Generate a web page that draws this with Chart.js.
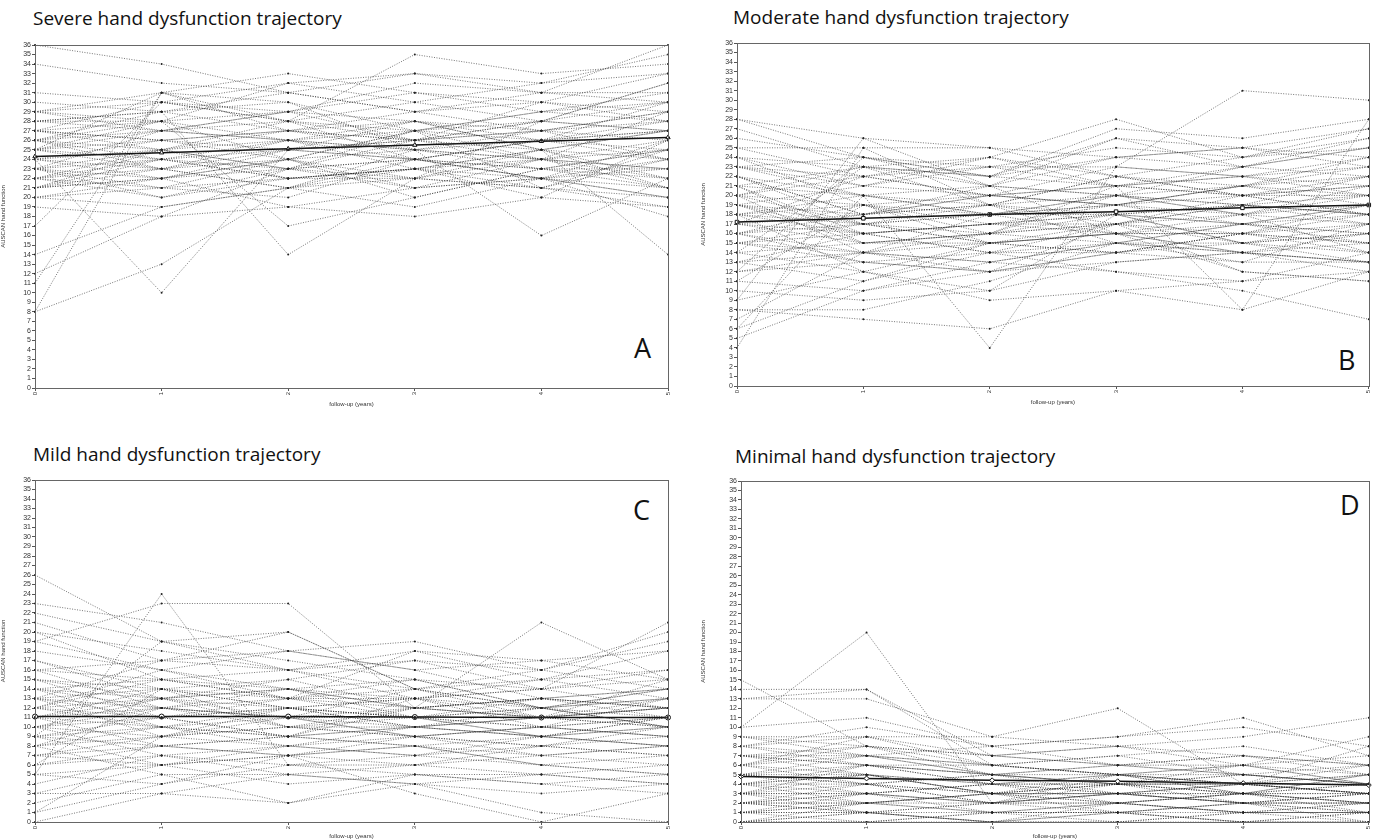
<!DOCTYPE html>
<html>
<head>
<meta charset="utf-8">
<script src="https://cdn.jsdelivr.net/npm/chart.js@4"></script>
<style>
  body { margin: 0; background: #fff; width: 1377px; height: 840px; overflow: hidden; position: relative; font-family: "Open Sans", sans-serif; }
  canvas { position: absolute; }
  .title { position: absolute; font-size: 19px; color: #111; white-space: nowrap; line-height: 1; }
  .letter { position: absolute; font-size: 27px; color: #111; line-height: 1; }
</style>
</head>
<body>
<div class="title" style="left:33px;top:9px">Severe hand dysfunction trajectory</div>
<div class="title" style="left:733px;top:8px">Moderate hand dysfunction trajectory</div>
<div class="title" style="left:33px;top:445px">Mild hand dysfunction trajectory</div>
<div class="title" style="left:735px;top:447px">Minimal hand dysfunction trajectory</div>
<div class="letter" style="left:634px;top:334px">A</div>
<div class="letter" style="left:1338px;top:346px">B</div>
<div class="letter" style="left:633px;top:496px">C</div>
<div class="letter" style="left:1340px;top:491px">D</div>

<canvas id="chartA" width="690" height="378" style="left:0;top:30px"></canvas>
<canvas id="chartB" width="677" height="378" style="left:700px;top:28px"></canvas>
<canvas id="chartC" width="690" height="375" style="left:0;top:465px"></canvas>
<canvas id="chartD" width="677" height="374" style="left:700px;top:466px"></canvas>

<script>
const years = [0, 1, 2, 3, 4, 5];
const yTicks = [0, 36];

const severeLines = [
    [36, 34, 31, 29, 31, 36], [34, 32, 31, 33, 32, 35], [31, 30, 28, 35, 33, 34],
    [29, 31, 33, 31, 30, 33], [29, 28, 32, 30, 28, 32], [28, 27, 29, 32, 31, 31],
    [28, 29, 30, 27, 29, 30], [27, 26, 27, 29, 30, 29], [27, 25, 28, 26, 27, 28],
    [26, 27, 26, 28, 25, 27], [26, 24, 25, 24, 26, 28], [25, 26, 24, 27, 24, 26],
    [25, 23, 26, 25, 23, 25], [24, 10, 25, 26, 27, 24], [24, 22, 23, 24, 22, 23],
    [23, 24, 22, 23, 25, 22], [23, 21, 24, 22, 21, 24], [22, 23, 21, 25, 24, 21],
    [22, 20, 23, 21, 22, 20], [21, 25, 22, 23, 20, 19], [21, 22, 24, 20, 23, 22],
    [20, 21, 22, 22, 21, 25], [20, 19, 21, 19, 22, 18], [19, 18, 19, 21, 24, 23],
    [17, 30, 29, 28, 26, 27], [14, 19, 21, 23, 25, 21], [12, 18, 23, 26, 28, 30],
    [11, 31, 27, 25, 24, 29], [8, 13, 21, 24, 22, 26], [8, 31, 28, 27, 29, 31],
    [28, 29, 14, 22, 25, 24], [26, 28, 17, 20, 23, 25], [25, 31, 30, 25, 16, 22],
    [27, 26, 25, 28, 25, 14], [23, 27, 28, 30, 32, 33], [29, 30, 32, 33, 31, 30],
    [22, 24, 26, 24, 26, 27], [24, 26, 27, 26, 30, 28], [21, 22, 19, 18, 20, 26],
    [26, 29, 31, 29, 27, 29], [23, 25, 23, 22, 28, 32], [25, 28, 24, 27, 21, 19],
    [30, 29, 27, 26, 28, 27], [27, 28, 29, 26, 24, 25], [26, 25, 23, 24, 22, 21],
    [25, 24, 22, 23, 21, 20], [24, 25, 26, 27, 26, 25], [23, 22, 25, 26, 25, 27],
    [22, 25, 27, 28, 27, 26], [21, 23, 25, 24, 23, 23], [20, 22, 24, 25, 26, 24],
    [28, 28, 26, 25, 27, 29], [26, 23, 21, 22, 24, 23], [24, 23, 24, 21, 22, 24],
    [27, 30, 28, 24, 23, 21], [22, 21, 20, 24, 26, 30], [25, 27, 29, 31, 29, 28],
    [23, 20, 22, 23, 22, 20], [29, 27, 26, 23, 24, 22], [21, 24, 23, 27, 28, 27]
];
const severeMean = [24.3, 24.7, 25.1, 25.5, 25.9, 26.3];

const moderateLines = [
    [28, 26, 25, 22, 24, 27], [28, 24, 22, 27, 26, 28], [27, 23, 21, 26, 25, 24],
    [25, 25, 25, 24, 23, 26], [25, 22, 24, 21, 23, 25], [24, 21, 23, 23, 22, 23],
    [24, 19, 20, 19, 21, 22], [23, 20, 18, 20, 18, 21], [22, 18, 19, 22, 20, 20],
    [22, 17, 16, 18, 17, 19], [21, 16, 17, 17, 19, 18], [21, 15, 15, 16, 16, 17],
    [20, 22, 20, 21, 22, 24], [20, 14, 13, 15, 15, 16], [19, 21, 24, 28, 24, 25],
    [19, 17, 18, 18, 17, 15], [18, 16, 17, 19, 18, 14], [18, 20, 21, 20, 19, 20],
    [17, 18, 19, 17, 20, 21], [17, 15, 16, 15, 14, 13], [16, 19, 15, 16, 17, 18],
    [16, 13, 14, 14, 15, 16], [15, 14, 12, 13, 14, 13], [15, 17, 18, 16, 16, 19],
    [14, 12, 15, 17, 19, 22], [14, 23, 22, 24, 25, 23], [13, 11, 14, 12, 11, 12],
    [13, 16, 17, 18, 15, 17], [12, 13, 12, 14, 16, 15], [12, 24, 23, 21, 20, 18],
    [11, 10, 13, 12, 10, 7], [11, 19, 16, 20, 21, 19], [10, 9, 10, 13, 14, 16],
    [9, 26, 21, 16, 12, 11], [9, 12, 9, 10, 8, 12], [8, 7, 6, 10, 11, 14],
    [8, 8, 11, 15, 14, 13], [7, 14, 18, 19, 17, 16], [6, 20, 4, 23, 22, 21],
    [5, 10, 12, 17, 18, 20], [4, 25, 19, 15, 13, 17], [6, 11, 15, 14, 16, 14],
    [23, 21, 20, 23, 31, 30], [26, 24, 22, 26, 23, 22], [20, 23, 19, 22, 20, 18],
    [17, 22, 20, 19, 21, 24], [22, 18, 21, 24, 25, 27], [19, 16, 14, 17, 12, 11],
    [16, 14, 16, 21, 8, 28], [18, 12, 10, 18, 15, 13],
    [24, 23, 22, 21, 20, 22], [23, 22, 23, 25, 24, 26], [21, 20, 19, 18, 19, 17],
    [20, 19, 17, 16, 18, 19], [19, 18, 20, 21, 22, 20], [18, 17, 15, 14, 16, 15],
    [17, 16, 17, 18, 19, 18], [16, 17, 19, 20, 18, 17], [15, 16, 14, 15, 17, 16],
    [14, 15, 16, 17, 16, 18], [13, 14, 15, 16, 14, 15], [12, 14, 13, 15, 17, 19],
    [21, 23, 24, 22, 21, 23], [22, 20, 18, 19, 20, 21], [19, 15, 16, 17, 15, 14],
    [18, 19, 18, 20, 23, 25], [20, 17, 15, 16, 14, 12], [23, 24, 21, 20, 19, 18],
    [16, 18, 20, 19, 21, 20], [15, 13, 12, 14, 13, 13]
];
const moderateMean = [17.2, 17.6, 18.0, 18.3, 18.7, 19.0];

const mildLines = [
    [26, 19, 17, 15, 12, 10], [23, 21, 18, 19, 16, 14], [22, 19, 16, 18, 17, 15],
    [21, 17, 20, 14, 15, 18], [20, 18, 16, 17, 14, 12], [20, 15, 14, 13, 15, 16],
    [19, 16, 18, 16, 13, 14], [17, 14, 13, 15, 12, 11], [17, 13, 15, 12, 11, 13],
    [16, 12, 11, 14, 16, 19], [15, 14, 12, 11, 10, 9], [15, 11, 13, 13, 14, 15],
    [14, 13, 10, 12, 13, 12], [14, 10, 12, 10, 9, 8], [13, 12, 14, 11, 12, 10],
    [13, 9, 11, 9, 8, 7], [12, 11, 9, 13, 10, 11], [12, 15, 16, 14, 12, 13],
    [11, 10, 8, 10, 11, 12], [11, 8, 9, 8, 7, 6], [10, 12, 10, 9, 10, 9],
    [10, 7, 6, 7, 6, 5], [9, 11, 12, 11, 9, 10], [9, 6, 7, 6, 5, 4],
    [8, 10, 9, 12, 13, 14], [8, 5, 5, 4, 3, 4], [7, 9, 8, 7, 8, 9],
    [7, 6, 4, 5, 4, 3], [6, 8, 7, 8, 6, 7], [6, 14, 15, 17, 16, 20],
    [5, 24, 6, 5, 4, 5], [5, 4, 6, 6, 7, 8], [4, 7, 5, 4, 5, 6],
    [3, 3, 2, 5, 5, 4], [3, 6, 8, 9, 7, 8], [2, 5, 2, 4, 1, 0],
    [1, 9, 12, 13, 14, 16], [1, 4, 7, 3, 0, 3], [0, 3, 5, 6, 8, 10],
    [19, 23, 23, 12, 21, 15], [13, 17, 18, 16, 17, 18], [12, 16, 13, 18, 15, 13],
    [10, 13, 14, 15, 14, 21], [9, 19, 20, 14, 11, 12], [11, 14, 10, 10, 12, 14],
    [8, 12, 11, 11, 9, 11],
    [18, 16, 14, 12, 13, 12], [16, 15, 13, 12, 11, 10], [15, 13, 12, 11, 12, 13],
    [14, 12, 11, 10, 11, 10], [13, 11, 12, 13, 11, 12], [12, 13, 11, 12, 13, 11],
    [11, 12, 13, 11, 10, 11], [10, 11, 9, 10, 9, 10], [9, 10, 11, 9, 10, 9],
    [8, 9, 10, 9, 8, 7], [7, 8, 9, 10, 11, 12], [6, 7, 8, 7, 9, 8],
    [12, 10, 9, 8, 9, 11], [14, 15, 13, 14, 12, 10], [11, 13, 14, 12, 11, 15],
    [10, 9, 10, 11, 13, 12], [16, 17, 16, 13, 12, 14], [9, 8, 7, 9, 10, 13],
    [13, 14, 12, 10, 9, 8], [5, 6, 7, 8, 6, 5]
];
const mildMean = [11.1, 11.1, 11.1, 11.05, 11.0, 11.0];

const minimalLines = [
    [15, 8, 5, 4, 3, 2], [14, 14, 6, 5, 4, 3], [13, 14, 7, 6, 5, 4],
    [13, 13, 9, 8, 7, 6], [10, 20, 2, 3, 2, 1], [10, 11, 8, 9, 10, 8],
    [9, 9, 9, 12, 4, 5], [9, 7, 6, 7, 8, 6], [8, 10, 8, 9, 11, 7],
    [8, 6, 5, 6, 7, 5], [7, 8, 7, 8, 9, 11], [7, 5, 4, 5, 6, 4],
    [6, 9, 6, 7, 5, 6], [6, 4, 3, 4, 4, 3], [5, 7, 5, 6, 6, 7],
    [5, 3, 2, 3, 2, 2], [5, 6, 4, 4, 5, 4], [4, 5, 3, 5, 3, 5],
    [4, 2, 1, 2, 1, 1], [4, 4, 5, 3, 4, 3], [3, 6, 4, 4, 5, 4],
    [3, 3, 2, 2, 3, 2], [3, 1, 0, 1, 2, 0], [2, 4, 3, 3, 4, 3],
    [2, 2, 1, 1, 0, 1], [2, 3, 4, 2, 3, 4], [1, 2, 2, 3, 2, 1],
    [1, 1, 0, 0, 1, 0], [1, 0, 1, 2, 1, 2], [0, 1, 0, 0, 0, 0],
    [0, 2, 3, 1, 2, 3], [0, 0, 1, 1, 0, 1], [6, 8, 6, 5, 4, 8],
    [4, 5, 3, 4, 6, 9], [3, 2, 3, 3, 4, 6], [2, 1, 2, 2, 3, 5],
    [1, 3, 1, 1, 2, 2], [5, 4, 2, 5, 3, 3], [7, 7, 8, 6, 7, 6],
    [0, 0, 0, 2, 1, 1],
    [8, 7, 6, 5, 4, 4], [7, 6, 5, 4, 4, 3], [6, 5, 4, 3, 3, 2],
    [5, 5, 3, 4, 2, 3], [4, 3, 4, 3, 3, 3], [3, 4, 2, 3, 2, 2],
    [2, 3, 2, 4, 3, 2], [1, 2, 3, 2, 1, 1], [9, 8, 7, 6, 5, 4],
    [6, 7, 5, 4, 3, 4], [5, 4, 5, 4, 4, 5], [4, 6, 5, 5, 4, 3],
    [3, 5, 3, 2, 3, 1], [2, 2, 3, 3, 2, 3], [1, 1, 1, 0, 1, 1],
    [0, 1, 2, 1, 0, 0], [7, 6, 6, 5, 6, 5], [8, 9, 7, 8, 6, 4],
    [3, 3, 4, 5, 5, 4], [2, 1, 0, 1, 1, 2]
];
const minimalMean = [4.8, 4.6, 4.4, 4.3, 4.1, 3.9];

// box round the plot area
const framePlugin = {
    id: 'frame',
    afterDraw(chart) {
        const { ctx, chartArea: a } = chart;
        ctx.save();
        ctx.strokeStyle = '#666';
        ctx.lineWidth = 1;
        ctx.strokeRect(Math.round(a.left) + 0.5, Math.round(a.top) + 0.5,
            Math.round(a.right - a.left), Math.round(a.bottom - a.top));
        ctx.restore();
    }
};

function makePanel(id, lines, mean, markerStyle, layout) {
    const datasets = lines.map(vals => ({
        data: years.map((x, i) => ({ x: x, y: vals[i] })),
        borderColor: 'rgba(40,40,40,0.8)',
        borderWidth: 0.8,
        borderDash: [1, 1.5],
        pointRadius: 1,
        pointBackgroundColor: '#222',
        pointBorderWidth: 0,
        clip: 3
    }));
    datasets.push({
        data: years.map((x, i) => ({ x: x, y: mean[i] })),
        borderColor: '#111',
        borderWidth: 1.5,
        pointStyle: markerStyle,
        pointRadius: 2.5,
        pointBackgroundColor: '#fff',
        pointBorderColor: '#111',
        pointBorderWidth: 1,
        clip: 3
    });

    new Chart(document.getElementById(id), {
        type: 'line',
        data: { datasets: datasets },
        plugins: [framePlugin],
        options: {
            responsive: false,
            animation: false,
            layout: { padding: { top: layout.top, right: layout.right, left: 0, bottom: 0 } },
            plugins: { legend: { display: false }, tooltip: { enabled: false } },
            scales: {
                x: {
                    type: 'linear',
                    min: years[0],
                    max: years[years.length - 1],
                    afterFit: s => { s.height = layout.xh; },
                    ticks: { stepSize: 1, minRotation: 90, maxRotation: 90, color: '#333', font: { size: 6, family: 'Liberation Sans' }, padding: 1 },
                    grid: { drawOnChartArea: false, tickLength: 3, color: '#555' },
                    border: { color: '#666' },
                    title: { display: true, text: 'follow-up (years)', color: '#333', font: { size: 6, family: 'Liberation Sans' }, padding: 0 }
                },
                y: {
                    min: yTicks[0],
                    max: yTicks[1],
                    afterFit: s => { s.width = layout.yw; },
                    ticks: { stepSize: 1, autoSkip: false, color: '#333', font: { size: 7, family: 'Liberation Sans' }, padding: 1 },
                    grid: { drawOnChartArea: false, tickLength: 3, color: '#555' },
                    border: { color: '#666' },
                    title: { display: true, text: 'AUSCAN hand function', color: '#333', font: { size: 6, family: 'Liberation Sans' }, padding: 0 }
                }
            }
        }
    });
}

makePanel('chartA', severeLines, severeMean, 'triangle', { top: 15, right: 22, yw: 35, xh: 20 });
makePanel('chartB', moderateLines, moderateMean, 'rect', { top: 15, right: 6, yw: 37, xh: 20 });
makePanel('chartC', mildLines, mildMean, 'circle', { top: 15, right: 22, yw: 35, xh: 18 });
makePanel('chartD', minimalLines, minimalMean, 'rectRot', { top: 15, right: 4, yw: 41, xh: 18 });
</script>
</body>
</html>
